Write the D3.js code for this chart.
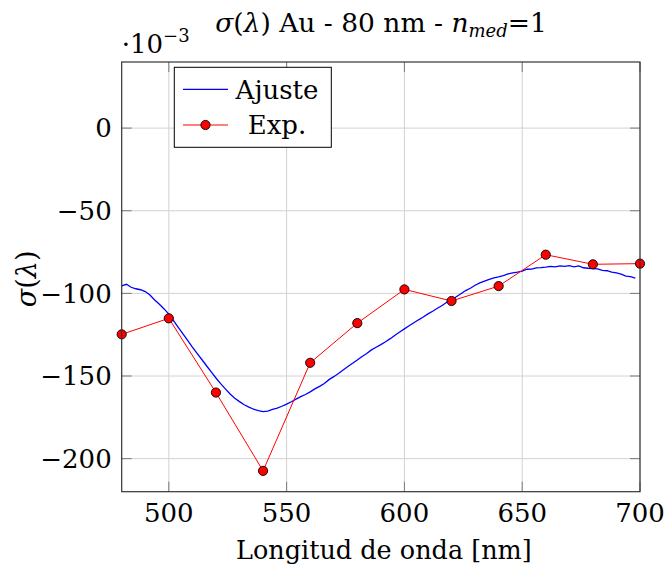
<!DOCTYPE html>
<html>
<head>
  <meta charset="utf-8">
  <title>sigma lambda Au 80 nm</title>
  <script src="https://d3js.org/d3.v7.min.js"></script>
  <style>
    body { margin: 0; background: #fff; }
    text { font-family: "DejaVu Serif", serif; fill: #000; }
    .grid line { stroke: #d2d2d2; stroke-width: 1; }
    .tick-mark { stroke: #7a7a7a; stroke-width: 1; }
  </style>
</head>
<body>
  <svg width="664" height="576"></svg>

  <script>
    // experimental points
    const expLambda = [480, 500, 520, 540, 560, 580, 600, 620, 640, 660, 680, 700];
    const expSigma = [-124.8, -115.1, -160, -207.4, -142, -118, -97.6, -104.6, -95.6, -76.6, -82.4, -82];

    // fitted curve, read every 2 nm
    const fitLambda = d3.range(480, 699, 2);
    const fitSigma = [
      -95.4, -94.5, -96.3, -97.2, -97.8, -98.9, -101, -104, -106.6, -109.4,
      -112.5, -116.5, -120.5, -124.5, -128.5, -132.5, -136.3, -140, -143.8, -147.5,
      -151.2, -154.6, -157.8, -160.9, -163.4, -165.5, -167.4, -168.8, -170.1, -171,
      -171.6, -171.3, -170.2, -169.4, -168.3, -167, -165.6, -164, -162.5, -161.2,
      -159.6, -157.8, -156.3, -154.5, -152.2, -150.4, -148.5, -146.3, -144.2, -142.3,
      -140.3, -138.2, -136.4, -134.2, -132.6, -131, -129.3, -127.4, -125.3, -123.4,
      -121.5, -119.6, -117.8, -116, -114.3, -112.4, -110.8, -109, -107.3, -105.4,
      -103.9, -102, -100.2, -98.3, -96.9, -95.1, -93.7, -92.6, -91.5, -90.6,
      -90, -89.3, -88.2, -87.6, -87.1, -86.5, -85.4, -85.3, -84.6, -84.4,
      -84.1, -83.7, -84, -83.4, -83.7, -83.2, -83.9, -83.4, -84.5, -84.8,
      -85, -85.2, -86.1, -86.3, -87.2, -87.6, -88.4, -89.5, -89.9, -90.8
    ];

    const xTicks = [500, 550, 600, 650, 700];
    const yTicks = [0, -50, -100, -150, -200];

    const svg = d3.select('svg');
    const pl = 121.7, pr = 640, pt = 62, pb = 491.7;
    const fs = 26;

    const x = d3.scaleLinear().domain([480, 700]).range([pl, pr]);
    const y = d3.scaleLinear().domain([-220, 40]).range([pb, pt]);

    // grid
    const grid = svg.append('g').attr('class', 'grid');
    grid.selectAll('.gx').data(xTicks).enter().append('line')
      .attr('x1', d => x(d)).attr('x2', d => x(d))
      .attr('y1', pt).attr('y2', pb);
    grid.selectAll('.gy').data(yTicks).enter().append('line')
      .attr('y1', d => y(d)).attr('y2', d => y(d))
      .attr('x1', pl).attr('x2', pr);

    // inward ticks on all four sides
    const tl = 10;
    const ticks = svg.append('g');
    xTicks.forEach(t => {
      ticks.append('line').attr('class', 'tick-mark')
        .attr('x1', x(t)).attr('x2', x(t)).attr('y1', pb).attr('y2', pb - tl);
      ticks.append('line').attr('class', 'tick-mark')
        .attr('x1', x(t)).attr('x2', x(t)).attr('y1', pt).attr('y2', pt + tl);
    });
    yTicks.forEach(t => {
      ticks.append('line').attr('class', 'tick-mark')
        .attr('y1', y(t)).attr('y2', y(t)).attr('x1', pl).attr('x2', pl + tl);
      ticks.append('line').attr('class', 'tick-mark')
        .attr('y1', y(t)).attr('y2', y(t)).attr('x1', pr).attr('x2', pr - tl);
    });

    // fitted curve
    const fit = fitLambda.map((l, i) => [l, fitSigma[i]]);
    svg.append('path')
      .datum(fit)
      .attr('fill', 'none')
      .attr('stroke', '#0000ff')
      .attr('stroke-width', 1.3)
      .attr('d', d3.line().x(d => x(d[0])).y(d => y(d[1])));

    // experimental
    const exp = expLambda.map((l, i) => [l, expSigma[i]]);
    svg.append('path')
      .datum(exp)
      .attr('fill', 'none')
      .attr('stroke', '#ff0000')
      .attr('stroke-width', 1)
      .attr('d', d3.line().x(d => x(d[0])).y(d => y(d[1])));
    svg.append('g').selectAll('circle')
      .data(exp).enter().append('circle')
      .attr('cx', d => x(d[0])).attr('cy', d => y(d[1]))
      .attr('r', 4.6)
      .attr('fill', '#ff0000').attr('stroke', '#000').attr('stroke-width', 0.9);

    // axis frame
    svg.append('rect')
      .attr('x', pl).attr('y', pt)
      .attr('width', pr - pl).attr('height', pb - pt)
      .attr('fill', 'none').attr('stroke', '#333').attr('stroke-width', 1.2);

    // tick labels
    svg.append('g').selectAll('text')
      .data(xTicks).enter().append('text')
      .attr('x', d => x(d)).attr('y', pb + 30)
      .attr('text-anchor', 'middle').attr('font-size', fs)
      .text(d => d);
    svg.append('g').selectAll('text')
      .data(yTicks).enter().append('text')
      .attr('x', pl - 10).attr('y', d => y(d)).attr('dy', '0.36em')
      .attr('text-anchor', 'end').attr('font-size', fs)
      .text(d => d < 0 ? '\u2212' + Math.abs(d) : d);

    // scale factor
    const sf = svg.append('text').attr('x', pl).attr('y', 53).attr('font-size', fs);
    sf.append('tspan').text('\u00b710');
    sf.append('tspan').attr('font-size', 18).attr('dy', -11).text('\u22123');

    // title
    const title = svg.append('text').attr('x', 381).attr('y', 32)
      .attr('text-anchor', 'middle').attr('font-size', 26.5);
    title.append('tspan').attr('font-style', 'italic').text('\u03c3');
    title.append('tspan').text('(');
    title.append('tspan').attr('font-style', 'italic').text('\u03bb');
    title.append('tspan').text(') Au - 80 nm - ');
    title.append('tspan').attr('font-style', 'italic').text('n');
    title.append('tspan').attr('font-style', 'italic').attr('font-size', 18).attr('dy', 5).text('med');
    title.append('tspan').attr('dy', -5).text('=1');

    // axis labels
    svg.append('text')
      .attr('x', (pl + pr) / 2 + 3).attr('y', 559)
      .attr('text-anchor', 'middle').attr('font-size', 25.5)
      .text('Longitud de onda [nm]');
    const yl = svg.append('text')
      .attr('transform', `translate(36,${(pt + pb) / 2 + 2}) rotate(-90)`)
      .attr('text-anchor', 'middle').attr('font-size', fs + 1);
    yl.append('tspan').attr('font-style', 'italic').text('\u03c3');
    yl.append('tspan').text('(');
    yl.append('tspan').attr('font-style', 'italic').text('\u03bb');
    yl.append('tspan').text(')');

    // legend
    const lg = svg.append('g');
    lg.append('rect').attr('x', 174.3).attr('y', 67.3).attr('width', 157).attr('height', 80)
      .attr('fill', '#fff').attr('stroke', '#000').attr('stroke-width', 1);
    lg.append('line').attr('x1', 183).attr('x2', 228).attr('y1', 89.3).attr('y2', 89.3)
      .attr('stroke', '#0000ff').attr('stroke-width', 1.3);
    lg.append('line').attr('x1', 183).attr('x2', 228).attr('y1', 125).attr('y2', 125)
      .attr('stroke', '#ff0000').attr('stroke-width', 1);
    lg.append('circle').attr('cx', 205.5).attr('cy', 125).attr('r', 4.6)
      .attr('fill', '#ff0000').attr('stroke', '#000').attr('stroke-width', 0.9);
    lg.append('text').attr('x', 277).attr('y', 98.5).attr('text-anchor', 'middle')
      .attr('font-size', fs).text('Ajuste');
    lg.append('text').attr('x', 277).attr('y', 134).attr('text-anchor', 'middle')
      .attr('font-size', fs).text('Exp.');
  </script>
</body>
</html>
